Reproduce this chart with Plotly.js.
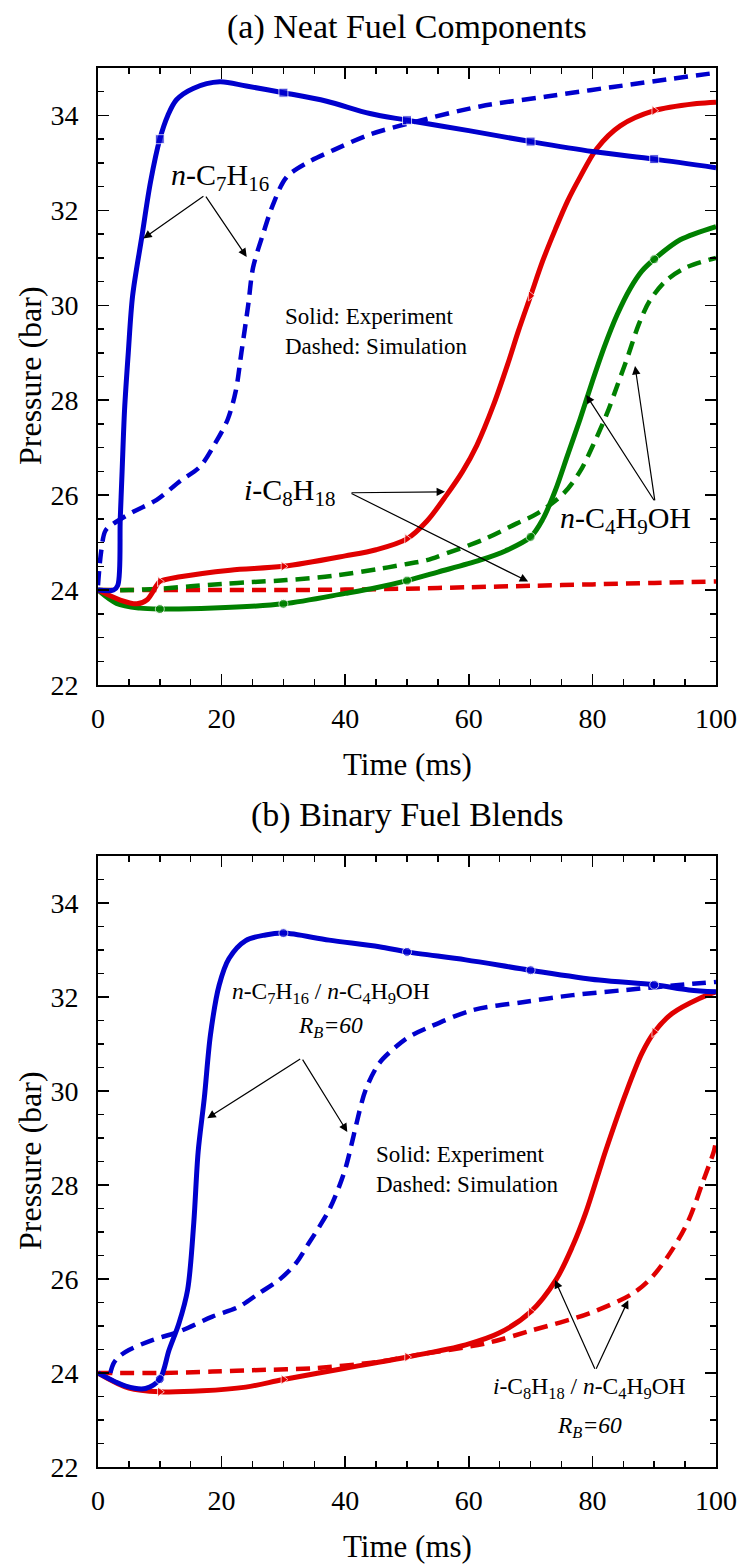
<!DOCTYPE html>
<html>
<head>
<meta charset="utf-8">
<script src="https://cdn.plot.ly/plotly-3.0.1.min.js"></script>
<style>html,body{margin:0;padding:0;background:#fff;}#chart{width:744px;height:1565px;}</style>
</head>
<body>
<div id="chart"></div>
<script>
// ---------- Panel (a): Neat fuel components ----------
const aHeptExpT = [0, 2.5, 3.2, 3.6, 3.9, 4.3, 4.9, 5.6, 7.1, 8.5, 10, 11.3, 12.7, 15.4, 19.7, 24, 30, 37, 44, 50, 60, 70, 80, 90, 100];
const aHeptExpP = [24.0, 24.0, 24.1, 25.5, 26.5, 27.8, 29.0, 30.2, 31.45, 32.6, 33.5, 34.0, 34.33, 34.57, 34.71, 34.62, 34.48, 34.3, 34.04, 33.9, 33.68, 33.45, 33.24, 33.08, 32.9];
const aHeptSimT = [0, 0.5, 1.2, 2.5, 5.7, 9.5, 13.3, 16.5, 19, 21, 22.3, 23.2, 24.3, 25.1, 26.7, 28.4, 30.5, 33.8, 38.1, 44, 50.5, 61.8, 72.6, 83.3, 100];
const aHeptSimP = [24.1, 24.8, 25.25, 25.4, 25.65, 25.9, 26.3, 26.6, 27.1, 27.6, 28.2, 29.0, 30.0, 30.8, 31.5, 32.15, 32.7, 33.0, 33.27, 33.6, 33.84, 34.19, 34.4, 34.6, 34.9];
const aIsoExpT = [0, 3.6, 6.3, 7.9, 9.5, 10, 13.3, 21.4, 30, 40, 45, 50, 53.2, 56.4, 59, 61.3, 64, 66.4, 68, 70, 72, 74, 76, 78, 80.7, 84.5, 90, 96.9, 100];
const aIsoExpP = [24.0, 23.79, 23.71, 23.79, 24.1, 24.18, 24.28, 24.42, 24.5, 24.72, 24.85, 25.08, 25.45, 26.0, 26.5, 27.05, 27.9, 28.8, 29.45, 30.2, 30.95, 31.6, 32.2, 32.7, 33.3, 33.78, 34.1, 34.25, 34.28];
const aIsoSimT = [0, 10, 20, 30, 40, 50, 60, 70, 80, 90, 100];
const aIsoSimP = [24.0, 24.0, 24.0, 24.0, 24.01, 24.03, 24.06, 24.09, 24.12, 24.15, 24.18];
const aButExpT = [0, 3, 6.8, 10, 18.7, 30, 40, 45, 50, 55, 61.8, 66, 70, 72, 74, 76, 78, 80, 82, 84, 86.1, 88, 90, 94.2, 100];
const aButExpP = [24.0, 23.72, 23.62, 23.6, 23.62, 23.71, 23.93, 24.05, 24.2, 24.38, 24.63, 24.83, 25.12, 25.5, 26.1, 26.85, 27.6, 28.4, 29.15, 29.8, 30.35, 30.72, 30.97, 31.38, 31.66];
const aButSimT = [0, 5, 10, 15, 20, 25, 30.5, 38, 45.6, 50, 53.2, 55.9, 62.3, 67.7, 70.9, 75.3, 78, 80.1, 82.3, 84, 85.8, 87.5, 89.3, 92, 95.2, 100];
const aButSimP = [24.0, 24.0, 24.03, 24.08, 24.13, 24.17, 24.21, 24.3, 24.45, 24.55, 24.63, 24.75, 25.06, 25.4, 25.6, 26.03, 26.5, 27.05, 27.7, 28.3, 28.95, 29.6, 30.1, 30.53, 30.8, 31.0];

// ---------- Panel (b): Binary fuel blends ----------
const bHeptBlendExpT = [0, 4.5, 7.7, 10, 11.5, 13.1, 14.5, 15.5, 16.2, 17.2, 18.2, 19.6, 21.2, 23.9, 27.1, 30, 37.4, 45.5, 50, 59.5, 70, 81.1, 90, 95.6, 100];
const bHeptBlendExpP = [24.0, 23.72, 23.67, 23.87, 24.49, 25.06, 25.77, 27.2, 28.7, 29.85, 31.2, 32.25, 32.82, 33.2, 33.32, 33.36, 33.21, 33.07, 32.96, 32.79, 32.57, 32.36, 32.26, 32.15, 32.11];
const bHeptBlendSimT = [2, 2.5, 3.4, 5, 8.8, 13.1, 18.5, 22.8, 26.1, 29.3, 32, 34.1, 35.8, 37.4, 39, 40.1, 41.2, 41.7, 43.3, 45.5, 48.2, 50.3, 53.6, 60.6, 68.7, 76.8, 85.4, 96.2, 100];
const bHeptBlendSimP = [24.0, 24.2, 24.35, 24.49, 24.7, 24.88, 25.2, 25.41, 25.7, 25.98, 26.33, 26.76, 27.11, 27.47, 27.96, 28.38, 28.96, 29.24, 30.02, 30.59, 30.94, 31.15, 31.36, 31.72, 31.89, 32.04, 32.15, 32.28, 32.32];
const bIsoBlendExpT = [0, 5, 10, 16.9, 23.9, 30, 40, 50, 59.5, 64.9, 70, 74.1, 76.8, 78.9, 81.1, 82.2, 85.4, 88, 90, 92.9, 97.3, 100];
const bIsoBlendExpP = [24.0, 23.68, 23.6, 23.62, 23.7, 23.86, 24.1, 24.34, 24.6, 24.85, 25.3, 25.98, 26.7, 27.4, 28.3, 28.75, 29.95, 30.8, 31.25, 31.65, 31.97, 32.11];
const bIsoBlendSimT = [0, 10, 18.5, 25, 34.7, 45.5, 51.4, 62.7, 70.3, 79.5, 86.5, 89.7, 92.9, 95.6, 97.8, 99.7, 100];
const bIsoBlendSimP = [24.0, 24.0, 24.03, 24.06, 24.1, 24.24, 24.38, 24.63, 24.91, 25.27, 25.69, 26.05, 26.62, 27.26, 28.04, 28.74, 28.95];

// marker positions on experimental curves (ms)
const MARK_T = [10, 30, 50, 70, 90];
const X_RANGE = [0, 100];
const Y_RANGE = [22, 35];

const BLUE = '#0000CD', RED = '#E00000', GREEN = '#008000';
const FONT = '"Liberation Serif", "Times New Roman", Times, "DejaVu Serif", serif';

function msizes(ts, s) { return ts.map(t => MARK_T.includes(t) ? s : 0); }
function expTrace(t, p, color, sym, xa, ya) {
  return {x: t, y: p, xaxis: xa, yaxis: ya, mode: 'lines+markers', type: 'scatter',
    line: {color: color, width: 5, shape: 'spline', smoothing: 0.9},
    marker: {color: color, symbol: sym, size: msizes(t, 9)}, hoverinfo: 'skip'};
}
function simTrace(t, p, color, xa, ya) {
  return {x: t, y: p, xaxis: xa, yaxis: ya, mode: 'lines', type: 'scatter',
    line: {color: color, width: 4.5, dash: '14px,8px', shape: 'spline', smoothing: 0.9}, hoverinfo: 'skip'};
}

const data = [
  simTrace(aIsoSimT, aIsoSimP, RED, 'x', 'y'),
  simTrace(aButSimT, aButSimP, GREEN, 'x', 'y'),
  simTrace(aHeptSimT, aHeptSimP, BLUE, 'x', 'y'),
  expTrace(aButExpT, aButExpP, GREEN, 'circle', 'x', 'y'),
  expTrace(aIsoExpT, aIsoExpP, RED, 'triangle-right', 'x', 'y'),
  expTrace(aHeptExpT, aHeptExpP, BLUE, 'square', 'x', 'y'),
  simTrace(bIsoBlendSimT, bIsoBlendSimP, RED, 'x2', 'y2'),
  simTrace(bHeptBlendSimT, bHeptBlendSimP, BLUE, 'x2', 'y2'),
  expTrace(bIsoBlendExpT, bIsoBlendExpP, RED, 'triangle-right', 'x2', 'y2'),
  expTrace(bHeptBlendExpT, bHeptBlendExpP, BLUE, 'circle', 'x2', 'y2')
];

function xax(anchor) {
  return {anchor: anchor, domain: [0, 1], range: X_RANGE, tick0: 0, dtick: 20,
    ticks: 'inside', ticklen: 11, tickwidth: 1.5, tickcolor: '#000',
    showline: true, linewidth: 1.8, linecolor: '#000', mirror: 'ticks',
    minor: {dtick: 5, ticks: 'inside', ticklen: 6, tickwidth: 1.5, tickcolor: '#000'},
    tickfont: {family: FONT, size: 28, color: '#000'}, ticklabelstandoff: 8,
    showgrid: false, zeroline: false, fixedrange: true};
}
function yax(anchor, dom) {
  return {anchor: anchor, domain: dom, range: Y_RANGE, tick0: 22, dtick: 2,
    ticks: 'inside', ticklen: 11, tickwidth: 1.5, tickcolor: '#000',
    showline: true, linewidth: 1.8, linecolor: '#000', mirror: 'ticks',
    minor: {dtick: 0.5, ticks: 'inside', ticklen: 6, tickwidth: 1.5, tickcolor: '#000'},
    tickfont: {family: FONT, size: 28, color: '#000'}, ticklabelstandoff: 12,
    showgrid: false, zeroline: false, fixedrange: true};
}

const H = 1565;
function py(pix) { return 1 - pix / H; }

function arrow(xa, ya, tx, ty, hx, hy) {
  return {xref: xa, yref: ya, axref: xa, ayref: ya, x: hx, y: hy, ax: tx, ay: ty, text: '',
    showarrow: true, arrowhead: 2, arrowsize: 1.4, arrowwidth: 1.2, arrowcolor: '#000', standoff: 0, startstandoff: 0};
}
function label(xa, ya, x, y, text, size, anchor) {
  return {xref: xa, yref: ya, x: x, y: y, text: text, showarrow: false,
    xanchor: anchor || 'center', yanchor: 'middle', align: anchor || 'center',
    font: {family: FONT, size: size, color: '#000'}};
}
function ptext(x, y, text, size, angle) {
  return {xref: 'paper', yref: 'paper', x: x, y: y, text: text, showarrow: false,
    xanchor: 'center', yanchor: 'middle', textangle: angle || 0,
    font: {family: FONT, size: size, color: '#000'}};
}

const annotations = [
  ptext(0.5, py(27), '(a) Neat Fuel Components', 34),
  ptext(0.5, py(815), '(b) Binary Fuel Blends', 34),
  ptext(0.5, py(764), 'Time (ms)', 31),
  ptext(0.5, py(1546), 'Time (ms)', 31),
  ptext(-0.110, py(376), 'Pressure (bar)', 32, -90),
  ptext(-0.110, py(1161), 'Pressure (bar)', 32, -90),
  // panel a labels
  label('x', 'y', 19.7, 32.70, '<i>n</i>-C<sub>7</sub>H<sub>16</sub>', 30),
  arrow('x', 'y', 17.3, 32.32, 7.33, 31.41),
  arrow('x', 'y', 17.3, 32.32, 24.06, 31.02),
  label('x', 'y', 29.9, 29.44, 'Solid: Experiment<br>Dashed: Simulation', 23, 'left'),
  label('x', 'y', 31.1, 26.07, '<i>i</i>-C<sub>8</sub>H<sub>18</sub>', 30),
  arrow('x', 'y', 40.78, 26.05, 56.15, 26.07),
  arrow('x', 'y', 40.78, 26.05, 69.6, 24.18),
  label('x', 'y', 85.36, 25.48, '<i>n</i>-C<sub>4</sub>H<sub>9</sub>OH', 30),
  arrow('x', 'y', 90.13, 25.86, 79.0, 28.11),
  arrow('x', 'y', 90.13, 25.86, 86.9, 28.72),
  // panel b labels
  label('x2', 'y2', 37.7, 32.08, '<i>n</i>-C<sub>7</sub>H<sub>16</sub> / <i>n</i>-C<sub>4</sub>H<sub>9</sub>OH', 23.5),
  label('x2', 'y2', 37.7, 31.37, '<i>R<sub>B</sub>=60</i>', 23.5),
  arrow('x2', 'y2', 32.96, 30.70, 17.69, 29.42),
  arrow('x2', 'y2', 32.96, 30.70, 40.34, 29.13),
  label('x2', 'y2', 44.66, 28.32, 'Solid: Experiment<br>Dashed: Simulation', 23, 'left'),
  label('x2', 'y2', 79.5, 23.68, '<i>i</i>-C<sub>8</sub>H<sub>18</sub> / <i>n</i>-C<sub>4</sub>H<sub>9</sub>OH', 23.5),
  label('x2', 'y2', 79.5, 22.85, '<i>R<sub>B</sub>=60</i>', 23.5),
  arrow('x2', 'y2', 80.5, 24.06, 73.95, 25.98),
  arrow('x2', 'y2', 80.5, 24.06, 85.8, 25.55)
];

const layout = {
  width: 744, height: H,
  margin: {l: 98, r: 28, t: 0, b: 0, pad: 0},
  paper_bgcolor: '#fff', plot_bgcolor: '#fff',
  showlegend: false,
  font: {family: FONT, color: '#000'},
  xaxis: xax('y'),
  yaxis: yax('x', [py(685), py(68)]),
  xaxis2: xax('y2'),
  yaxis2: yax('x2', [py(1467), py(856)]),
  annotations: annotations
};

Plotly.newPlot('chart', data, layout, {staticPlot: true, displayModeBar: false});
</script>
</body>
</html>
